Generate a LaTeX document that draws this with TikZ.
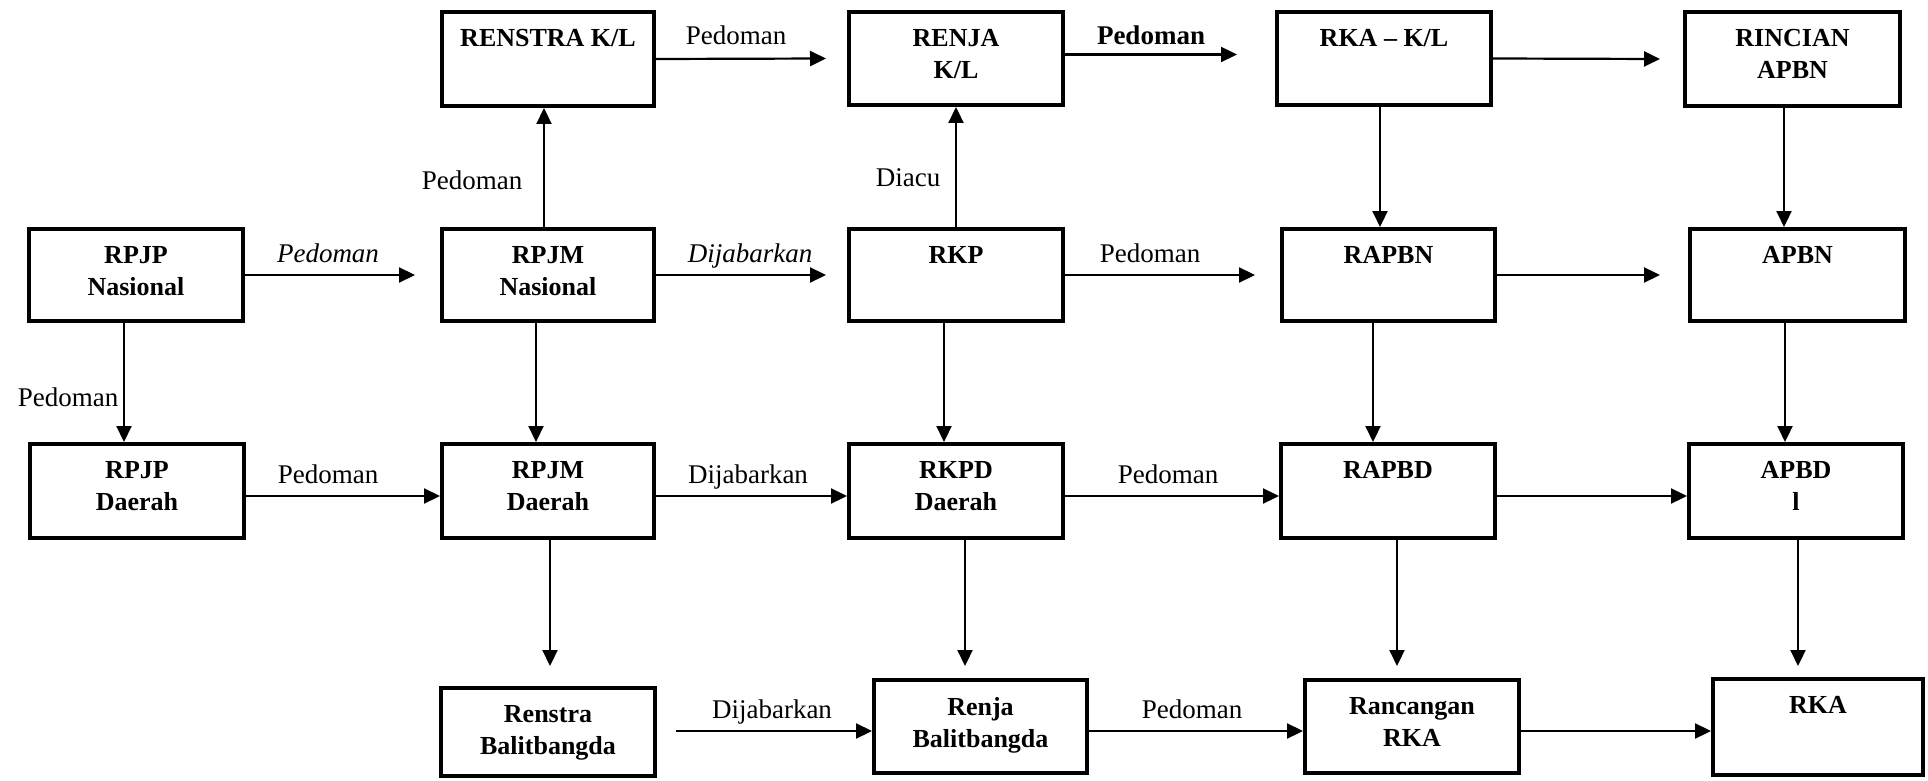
\documentclass[tikz,border=0pt]{standalone}
\usepackage{fontspec}
\setmainfont{Liberation Serif}
\usetikzlibrary{arrows.meta,calc}
\tikzset{
  box/.style={draw, line width=1.9pt, inner sep=0pt, rectangle},
  boxtext/.style={anchor=north, align=center, inner sep=0pt, font=\bfseries\fontsize{13}{16}\selectfont},
  arr/.style={line width=1.1pt, -{Triangle[length=8pt,width=7.5pt]}},
  lbl/.style={anchor=base, inner sep=0pt, font=\fontsize{13.5}{16}\selectfont},
}
\newcommand\BoxNode[6]{%
  \node[box, minimum width={(#4-#2-3.8)*0.5pt}, minimum height={(#5-#3-3.8)*0.5pt}] (#1) at ({(#2+#4)/2},{(#3+#5)/2}) {};
  \node[boxtext] (#1-t) at ($(#1.north)+(0,19)$) {#6};}
\begin{document}
\begin{tikzpicture}[x=0.5pt, y=-0.5pt]
\useasboundingbox (0,0) rectangle (1928,781);
% top row
\BoxNode{renstra}{440}{10}{656}{108}{RENSTRA K/L}
\BoxNode{renja}{847}{10}{1065}{107}{RENJA\\K/L}
\BoxNode{rkakl}{1275}{10}{1493}{107}{RKA – K/L}
\BoxNode{rincian}{1683}{10}{1902}{108}{RINCIAN\\APBN}
% second row
\BoxNode{rpjpn}{27}{227}{245}{323}{RPJP\\Nasional}
\BoxNode{rpjmn}{440}{227}{656}{323}{RPJM\\Nasional}
\BoxNode{rkp}{847}{227}{1065}{323}{RKP}
\BoxNode{rapbn}{1280}{227}{1497}{323}{RAPBN}
\BoxNode{apbn}{1688}{227}{1907}{323}{APBN}
% third row
\BoxNode{rpjpd}{28}{442}{246}{540}{RPJP\\Daerah}
\BoxNode{rpjmd}{440}{442}{656}{540}{RPJM\\Daerah}
\BoxNode{rkpd}{847}{442}{1065}{540}{RKPD\\Daerah}
\BoxNode{rapbd}{1279}{442}{1497}{540}{RAPBD}
\BoxNode{apbd}{1687}{442}{1905}{540}{APBD\\l}
% bottom row
\BoxNode{renstrab}{439}{686}{657}{778}{Renstra\\Balitbangda}
\BoxNode{renjab}{872}{678}{1089}{775}{Renja\\Balitbangda}
\BoxNode{rancangan}{1303}{678}{1521}{775}{Rancangan\\RKA}
\BoxNode{rka}{1711}{677}{1925}{777}{RKA}

% top row arrows
\draw[arr] (renstra.east) -- ($(renja.west)+(-21,0)$);
\draw[arr] ($(renja.east)+(0,-4)$) -- ($(rkakl.west)+(-38,-4)$);
\draw[arr] (rkakl.east) -- ($(rincian.west)+(-23,0)$);
% upward arrows
\draw[arr] ([xshift=-2pt]rpjmn.north) coordinate (u1) -- (u1 |- renstra.south);
\draw[arr] (rkp.north) -- (renja.south);
% down to second row
\draw[arr] ([xshift=-2pt]rkakl.south) coordinate (d1) -- (d1 |- rapbn.north);
\draw[arr] ([xshift=-4.25pt]rincian.south) coordinate (d2) -- (d2 |- apbn.north);
% second row arrows
\draw[arr] (rpjpn.east) -- ($(rpjmn.west)+(-25,0)$);
\draw[arr] (rpjmn.east) -- ($(rkp.west)+(-21,0)$);
\draw[arr] (rkp.east) -- ($(rapbn.west)+(-25,0)$);
\draw[arr] (rapbn.east) -- ($(apbn.west)+(-28,0)$);
% down to third row
\draw[arr] ([xshift=-6pt]rpjpn.south) coordinate (d3) -- (d3 |- rpjpd.north);
\draw[arr] ([xshift=-6pt]rpjmn.south) coordinate (d4) -- (d4 |- rpjmd.north);
\draw[arr] ([xshift=-6pt]rkp.south) coordinate (d5) -- (d5 |- rkpd.north);
\draw[arr] ([xshift=-7.75pt]rapbn.south) coordinate (d6) -- (d6 |- rapbd.north);
\draw[arr] ([xshift=-6.25pt]apbn.south) coordinate (d7) -- (d7 |- apbd.north);
% third row arrows
\draw[arr] ([yshift=-2.5pt]rpjpd.east) coordinate (h1) -- (h1 -| rpjmd.west);
\draw[arr] ([yshift=-2.5pt]rpjmd.east) coordinate (h2) -- (h2 -| rkpd.west);
\draw[arr] ([yshift=-2.5pt]rkpd.east) coordinate (h3) -- (h3 -| rapbd.west);
\draw[arr] ([yshift=-2.5pt]rapbd.east) coordinate (h4) -- (h4 -| apbd.west);
% down to bottom row
\draw[arr] ([xshift=1pt]rpjmd.south) coordinate (d8) -- ($(d8 |- renstrab.north)+(0,-20)$);
\draw[arr] ([xshift=4.5pt]rkpd.south) coordinate (d9) -- ($(d9 |- renjab.north)+(0,-12)$);
\draw[arr] ([xshift=4.5pt]rapbd.south) coordinate (d10) -- ($(d10 |- rancangan.north)+(0,-12)$);
\draw[arr] ([xshift=1pt]apbd.south) coordinate (d11) -- ($(d11 |- rka.north)+(0,-11)$);
% bottom row arrows
\draw[arr] ($(renstrab.east)+(19,-1)$) coordinate (h5) -- (h5 -| renjab.west);
\draw[arr] ([yshift=-2.25pt]renjab.east) coordinate (h6) -- (h6 -| rancangan.west);
\draw[arr] ([yshift=-2.25pt]rancangan.east) coordinate (h7) -- (h7 -| rka.west);

% labels
\node[lbl] (l1) at (736,45) {Pedoman};
\node[lbl, font=\bfseries\fontsize{13.5}{16}\selectfont] (l2) at (1151,45) {Pedoman};
\node[lbl] (l3) at (328,262) {\itshape Pedoman};
\node[lbl] (l4) at (472,190) {Pedoman};
\node[lbl] (l5) at (750,262) {\itshape Dijabarkan};
\node[lbl] (l6) at (908,186) {Diacu};
\node[lbl] (l7) at (1150,262) {Pedoman};
\node[lbl] (l8) at (68,406) {Pedoman};
\node[lbl] (l9) at (328,483) {Pedoman};
\node[lbl] (l10) at (748,483) {Dijabarkan};
\node[lbl] (l11) at (1168,483) {Pedoman};
\node[lbl] (l12) at (772,718) {Dijabarkan};
\node[lbl] (l13) at (1192,718) {Pedoman};
\end{tikzpicture}
\end{document}
